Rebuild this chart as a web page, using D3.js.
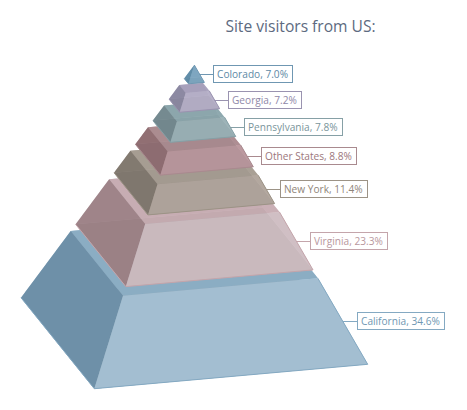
<!DOCTYPE html>
<html>
<head>
<meta charset="utf-8">
<script src="https://cdnjs.cloudflare.com/ajax/libs/d3/7.8.5/d3.min.js"></script>
<style>
body { margin: 0; background: #fff; }
text { font-family: "Open Sans", sans-serif; }
</style>
</head>
<body>
<script>
// data, top of pyramid first
var states = ["Colorado", "Georgia", "Pennsylvania", "Other States", "New York", "Virginia", "California"];
var shares = [7.0, 7.2, 7.8, 8.8, 11.4, 23.3, 34.6];
var titleText = "Site visitors from US:";

// colours per state
var frontColors = ["#7ea6c0", "#b4aec6", "#9ab0b5", "#b8979c", "#b0a59c", "#cdbcc1", "#a3bed1"];
var leftColors = ["#5c88a3", "#85829b", "#6e848a", "#89676c", "#7a7268", "#967a7f", "#6e90a8"];
var topColors = ["#6f97b2", "#a59db9", "#8aa5aa", "#a8898e", "#a59b90", "#c5aab0", "#8badc3"];
var lineColors = ["#6f97b2", "#9a93b0", "#86a0a6", "#a98a8f", "#9c9386", "#c4a5ab", "#84a9c2"];
var textColors = ["#5d89a5", "#8f88a8", "#7a959b", "#9c777c", "#8f8579", "#b8979d", "#6f97b2"];

var w = 467, h = 410;
var gap = 3.4; // empty space between the blocks, in % units

var svg = d3.select("body").append("svg")
    .attr("width", w)
    .attr("height", h);

svg.append("text")
    .attr("x", 300.5).attr("y", 32)
    .attr("text-anchor", "middle")
    .attr("font-size", 15.6)
    .attr("fill", "#5d6a80")
    .text(titleText);

// cumulative positions, t = 0 at the apex and t = 1 at the base
var total = d3.sum(shares) + gap * (shares.length - 1);
var t = d3.scaleLinear().domain([0, total]).range([0, 1]);

// the pyramid is a plain affine projection between apex and base corners
var apex = [194.3, 65];
var baseL = [21, 297.7], baseFL = [94.3, 388.7], baseFR = [367.7, 364.3];
var baseBR = [baseL[0] + baseFR[0] - baseFL[0], baseL[1] + baseFR[1] - baseFL[1]];

function corner(c, k) {
    return [apex[0] + (c[0] - apex[0]) * k, apex[1] + (c[1] - apex[1]) * k];
}
var line = d3.line();

var blocks = [];
var pos = 0;
shares.forEach(function(v, i) {
    blocks.push({ name: states[i], value: v, i: i, t0: t(pos), t1: t(pos + v) });
    pos += v + gap;
});

// draw from the base upwards so upper blocks sit on lower ones
blocks.slice().reverse().forEach(function(b) {
    var col = d3.color(frontColors[b.i]);
    var g = svg.append("g");
    var op = b.name == "California" ? 1 : 0.85;

    function face(cs, k0, k1, fill, o) {
        // cs: two corners of a side, k0 top level, k1 bottom level
        var pts = [corner(cs[0], k1), corner(cs[1], k1), corner(cs[1], k0), corner(cs[0], k0)];
        g.append("path")
            .attr("d", line(pts) + "Z")
            .attr("fill", fill)
            .attr("fill-opacity", o);
    }

    // hidden faces first, they show through the see-through front ones
    g.append("path")
        .attr("d", line([corner(baseL, b.t1), corner(baseFL, b.t1), corner(baseFR, b.t1), corner(baseBR, b.t1)]) + "Z")
        .attr("fill", col.darker(0.35));
    face([baseL, baseBR], b.t0, b.t1, col, 1);
    face([baseBR, baseFR], b.t0, b.t1, col.brighter(0.3), 1);

    // top face
    g.append("path")
        .attr("d", line([corner(baseL, b.t0), corner(baseFL, b.t0), corner(baseFR, b.t0), corner(baseBR, b.t0)]) + "Z")
        .attr("fill", topColors[b.i])
        .attr("fill-opacity", op);

    face([baseL, baseFL], b.t0, b.t1, leftColors[b.i], op);
    face([baseFL, baseFR], b.t0, b.t1, col, op);

    // thin edge along the front bottom and silhouette
    g.append("path")
        .attr("d", line([corner(baseL, b.t1), corner(baseFL, b.t1), corner(baseFR, b.t1), corner(baseFR, b.t0)]))
        .attr("fill", "none")
        .attr("stroke", lineColors[b.i])
        .attr("stroke-width", 1);
});

// labels
blocks.forEach(function(b) {
    var mid = (b.t0 + b.t1) / 2;
    var p = corner(baseFR, mid);
    var x0 = Math.round(p[0] + 14);
    var g = svg.append("g");
    var label = g.append("text")
        .attr("x", x0 + 4).attr("y", p[1] + 4)
        .attr("font-size", 10.15)
        .attr("fill", textColors[b.i])
        .text(b.name + ", " + b.value.toFixed(1) + "%");
    var bw = label.node().getComputedTextLength() + 8;
    g.insert("rect", "text")
        .attr("x", x0 + 0.5).attr("y", Math.round(p[1]) - 8.5)
        .attr("width", Math.round(bw)).attr("height", 17)
        .attr("fill", "#fff")
        .attr("stroke", lineColors[b.i]);
    g.insert("line", "rect")
        .attr("x1", p[0]).attr("y1", Math.round(p[1]) + 0.5)
        .attr("x2", x0).attr("y2", Math.round(p[1]) + 0.5)
        .attr("stroke", lineColors[b.i]);
});
</script>
</body>
</html>
